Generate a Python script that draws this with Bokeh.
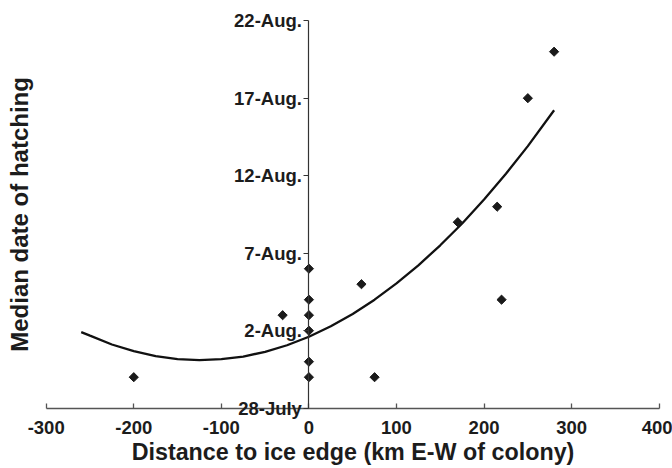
import math
from bokeh.plotting import figure
from bokeh.models import Label, FixedTicker, LinearAxis
from bokeh.embed import file_html
from bokeh.resources import INLINE

# Data (days after 28 July)
distance = [-200, -30, 0, 0, 0, 0, 0, 0, 60, 75, 170, 215, 220, 250, 280]
hatch_day = [2, 6, 9, 7, 6, 5, 3, 2, 8, 2, 12, 13, 7, 20, 23]

# Fitted curve
curve_x = [-260, -250, -225, -200, -175, -150, -125, -100, -75, -50, -25, 0,
           25, 50, 75, 100, 125, 150, 175, 200, 225, 250, 280]
curve_y = [4.91, 4.68, 4.11, 3.68, 3.36, 3.17, 3.10, 3.16, 3.33, 3.64, 4.06, 4.61,
           5.29, 6.08, 7.00, 8.05, 9.22, 10.51, 11.92, 13.46, 15.13, 16.91, 19.22]

x_ticks = [-300, -200, -100, 0, 100, 200, 300, 400]
x_tick_labels = ["-300", "-200", "-100", "0", "100", "200", "300", "400"]
y_ticks = [0, 5, 10, 15, 20, 25]
y_tick_labels = ["28-July", "2-Aug.", "7-Aug.", "12-Aug.", "17-Aug.", "22-Aug."]

FONT = "Liberation Sans"
TXT = "#1c1c1c"

W, H = 672, 468
PX_X = 0.8757     # pixels per km
PX_Y = 15.5       # pixels per day
LEFT_PAD = 45.7   # px from canvas left edge to x=-300
BOTTOM_PAD = 60.3 # px from canvas bottom to y=0

x0 = x_ticks[0] - LEFT_PAD / PX_X
y0 = y_ticks[0] - BOTTOM_PAD / PX_Y

p = figure(width=W, height=H, x_range=(x0, x0 + W / PX_X), y_range=(y0, y0 + H / PX_Y),
           output_backend="svg", toolbar_location=None,
           x_axis_location=None, y_axis_location=None,
           min_border_left=0, min_border_right=0, min_border_top=0, min_border_bottom=0)
p.grid.visible = False
p.outline_line_color = None
p.background_fill_color = "white"

# x axis at y = 0
ax = LinearAxis(fixed_location=y_ticks[0], bounds=(x_ticks[0], x_ticks[-1]))
ax.ticker = FixedTicker(ticks=x_ticks)
ax.major_label_overrides = {t: l for t, l in zip(x_ticks, x_tick_labels)}
ax.minor_tick_line_color = None
ax.major_tick_in = 5
ax.major_tick_out = 0
ax.axis_line_color = "#555555"
ax.axis_line_width = 1.6
ax.major_tick_line_color = "#555555"
ax.major_tick_line_width = 1.3
ax.major_label_text_font = FONT
ax.major_label_text_font_style = "bold"
ax.major_label_text_font_size = "18.5px"
ax.major_label_text_color = TXT
ax.major_label_standoff = 13
ax.axis_label = "Distance to ice edge (km E-W of colony)"
ax.axis_label_text_font = FONT
ax.axis_label_text_font_style = "bold"
ax.axis_label_text_font_size = "23.3px"
ax.axis_label_text_color = TXT
ax.axis_label_standoff = 1
p.add_layout(ax, "below")

# curve
p.line(curve_x, curve_y, line_color="#111111", line_width=2.3)

# points
p.scatter(distance, hatch_day, marker="square", angle=math.pi / 4, size=6.5,
          fill_color="#1a1a1a", line_color="#1a1a1a")

# y axis at x = 0
ay = LinearAxis(fixed_location=0, bounds=(y_ticks[0], y_ticks[-1]))
ay.ticker = FixedTicker(ticks=y_ticks)
ay.major_label_overrides = {t: l for t, l in zip(y_ticks, y_tick_labels)}
ay.minor_tick_line_color = None
ay.major_tick_in = 0
ay.major_tick_out = 5
ay.axis_line_color = "#333333"
ay.axis_line_width = 1.2
ay.major_tick_line_color = "#333333"
ay.major_tick_line_width = 1.2
ay.major_label_text_font = FONT
ay.major_label_text_font_style = "bold"
ay.major_label_text_font_size = "18.5px"
ay.major_label_text_color = TXT
ay.major_label_standoff = 2
p.add_layout(ay, "left")

# y title
p.add_layout(Label(x=x_ticks[0], y=12.5, x_offset=-27, angle=math.pi / 2,
                   text="Median date of hatching", text_align="center",
                   text_baseline="middle", text_font=FONT, text_font_style="bold",
                   text_font_size="24px", text_color=TXT))

open("out.html", "w").write(file_html(p, INLINE))
